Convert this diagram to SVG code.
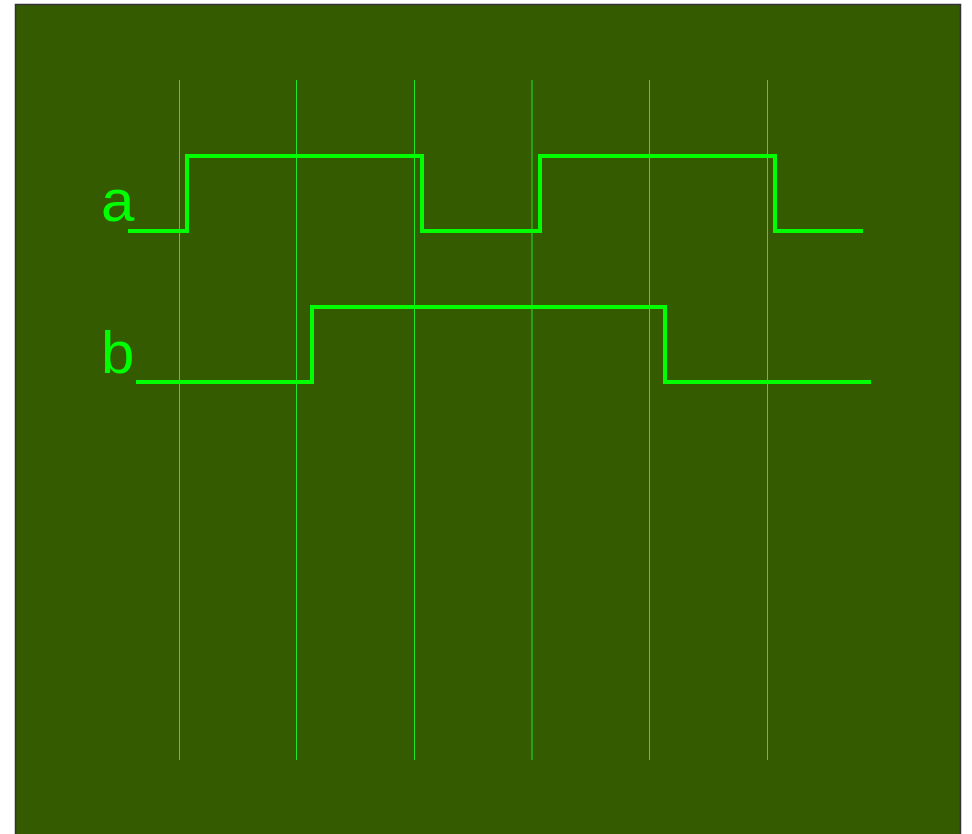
<svg xmlns="http://www.w3.org/2000/svg" width="972" height="834" viewBox="0 0 972 834">
<style>
.grid{stroke:#22e622;stroke-width:1;fill:none}
.wave{stroke:#00ff00;stroke-width:4;fill:none;stroke-linejoin:miter;stroke-linecap:butt}
.lbl{font-family:"Liberation Sans",Arial,sans-serif;font-size:60px;fill:#00ff00}
</style>
<rect id="background" x="15.5" y="4.5" width="945" height="840" fill="#345b00" stroke="#333" stroke-width="1.5"/>
<g id="grid">
<line class="grid" x1="179.5" y1="80" x2="179.5" y2="760"/>
<line class="grid" x1="296.5" y1="80" x2="296.5" y2="760"/>
<line class="grid" x1="414.5" y1="80" x2="414.5" y2="760"/>
<line class="grid" x1="532" y1="80" x2="532" y2="760"/>
<line class="grid" x1="649.5" y1="80" x2="649.5" y2="760"/>
<line class="grid" x1="767.5" y1="80" x2="767.5" y2="760"/>
</g>
<g id="signal-a">
<text class="lbl" x="101" y="221">a</text>
<polyline class="wave" points="128,231 187,231 187,156 422,156 422,231 540,231 540,156 775,156 775,231 863,231"/>
</g>
<g id="signal-b">
<text class="lbl" x="101" y="373">b</text>
<polyline class="wave" points="136,382 312,382 312,307 665,307 665,382 871,382"/>
</g>
</svg>
